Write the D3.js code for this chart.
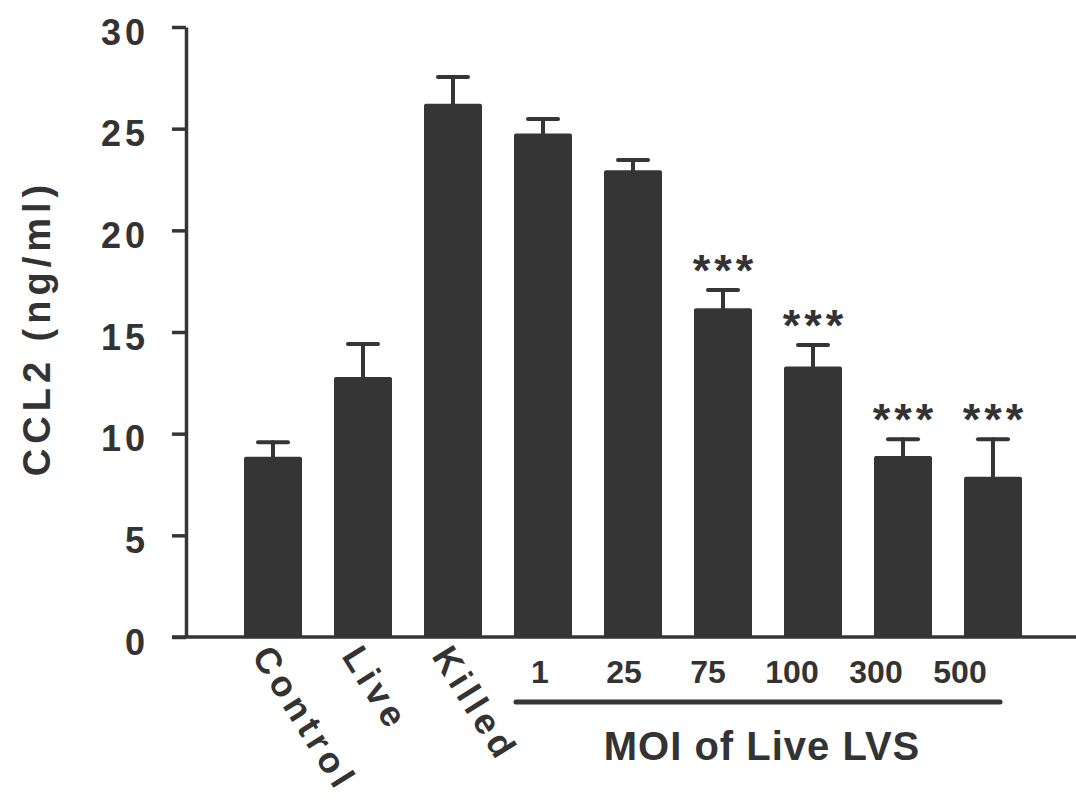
<!DOCTYPE html>
<html><head><meta charset="utf-8">
<script src="https://cdn.jsdelivr.net/npm/d3@7"></script>
<style>
  body { margin: 0; background: #fff; }
  svg { display: block; }
  text { font-family: "Liberation Sans", Arial, Helvetica, sans-serif; font-weight: bold; fill: #333; }
</style>
</head><body>
<svg id="chart" width="1076" height="802"></svg>
<script>
// CCL2 secretion by condition (mean ± SEM)
const categories = ["Control", "Live", "Killed", "1", "25", "75", "100", "300", "500"];
const means = [8.87, 12.79, 26.22, 24.76, 22.95, 16.17, 13.30, 8.90, 7.88];
const sem = [0.71, 1.62, 1.32, 0.72, 0.51, 0.90, 1.06, 0.82, 1.84];
const significance = ["", "", "", "", "", "***", "***", "***", "***"];
const yTicks = [0, 5, 10, 15, 20, 25, 30];
const groupLabels = ["Control", "Live", "Killed"];
const moiLabels = ["1", "25", "75", "100", "300", "500"];
const yTitle = "CCL2 (ng/ml)";
const moiTitle = "MOI of Live LVS";

const ink = "#353535";
const svg = d3.select("#chart");

const y = d3.scaleLinear().domain([0, 30]).range([637, 27]);
const x = d3.scaleBand().domain(categories).range([244, 1022])
  .paddingInner(32 / 90).paddingOuter(0);
const bw = x.bandwidth();

const rows = categories.map((c, i) => ({ c, m: means[i], e: sem[i], s: significance[i] }));

// bars
svg.append("g").selectAll("rect").data(rows).join("rect")
  .attr("x", d => x(d.c))
  .attr("y", d => y(d.m))
  .attr("width", bw)
  .attr("height", d => y(0) - y(d.m))
  .attr("rx", 2)
  .attr("fill", ink);

// error bars (upper whisker only)
const err = svg.append("g").attr("stroke", ink).attr("stroke-width", 4).attr("stroke-linecap", "round");
err.selectAll("line.v").data(rows).join("line").attr("class", "v")
  .attr("x1", d => x(d.c) + bw / 2).attr("x2", d => x(d.c) + bw / 2)
  .attr("y1", d => y(d.m)).attr("y2", d => y(d.m + d.e));
err.selectAll("line.cap").data(rows).join("line").attr("class", "cap")
  .attr("x1", d => x(d.c) + bw / 2 - 15).attr("x2", d => x(d.c) + bw / 2 + 15)
  .attr("y1", d => y(d.m + d.e)).attr("y2", d => y(d.m + d.e));

// significance stars
svg.append("g").selectAll("text").data(rows.filter(d => d.s)).join("text")
  .attr("x", d => x(d.c) + bw / 2)
  .attr("dx", 2)
  .attr("y", d => y(d.m + d.e) - 4)
  .attr("text-anchor", "middle")
  .attr("font-size", 45).attr("letter-spacing", 4)
  .text(d => d.s);

// y axis
const yAxis = d3.axisLeft(y).tickValues(yTicks).tickSize(14).tickSizeOuter(0).tickPadding(23);
const gy = svg.append("g").attr("transform", "translate(186,0)").call(yAxis);
gy.select(".domain").attr("stroke", ink).attr("stroke-width", 3.5);
gy.selectAll(".tick line").attr("stroke", ink).attr("stroke-width", 3.5);
gy.selectAll(".tick text")
  .attr("font-size", 36).attr("letter-spacing", 4)
  .attr("font-family", null).attr("fill", null)
  .attr("dy", null).attr("y", 17);

// x axis baseline
svg.append("line")
  .attr("x1", 172).attr("x2", 1076)
  .attr("y1", y(0)).attr("y2", y(0))
  .attr("stroke", ink).attr("stroke-width", 3.5);

// y axis title
svg.append("text")
  .attr("transform", "translate(50,328) rotate(-90)")
  .attr("text-anchor", "middle")
  .attr("font-size", 38).attr("letter-spacing", 5)
  .text(yTitle);

// rotated group labels
svg.append("g").selectAll("text").data(groupLabels).join("text")
  .attr("transform", d => `translate(${x(d) + bw / 2 - 22},656) rotate(58)`)
  .attr("font-size", 36).attr("letter-spacing", 5)
  .text(d => d);

// MOI labels, bracket line and title
const moiX = d3.scalePoint().domain(moiLabels).range([540, 960]);
svg.append("g").selectAll("text").data(moiLabels).join("text")
  .attr("x", d => moiX(d)).attr("y", 683)
  .attr("text-anchor", "middle").attr("font-size", 32)
  .text(d => d);
svg.append("line")
  .attr("x1", moiX("1") - 24).attr("x2", moiX("500") + 40)
  .attr("y1", 702).attr("y2", 702)
  .attr("stroke", ink).attr("stroke-width", 5).attr("stroke-linecap", "round");
svg.append("text")
  .attr("x", 762).attr("y", 760)
  .attr("text-anchor", "middle").attr("font-size", 40).attr("letter-spacing", 1)
  .text(moiTitle);
</script>
</body></html>
